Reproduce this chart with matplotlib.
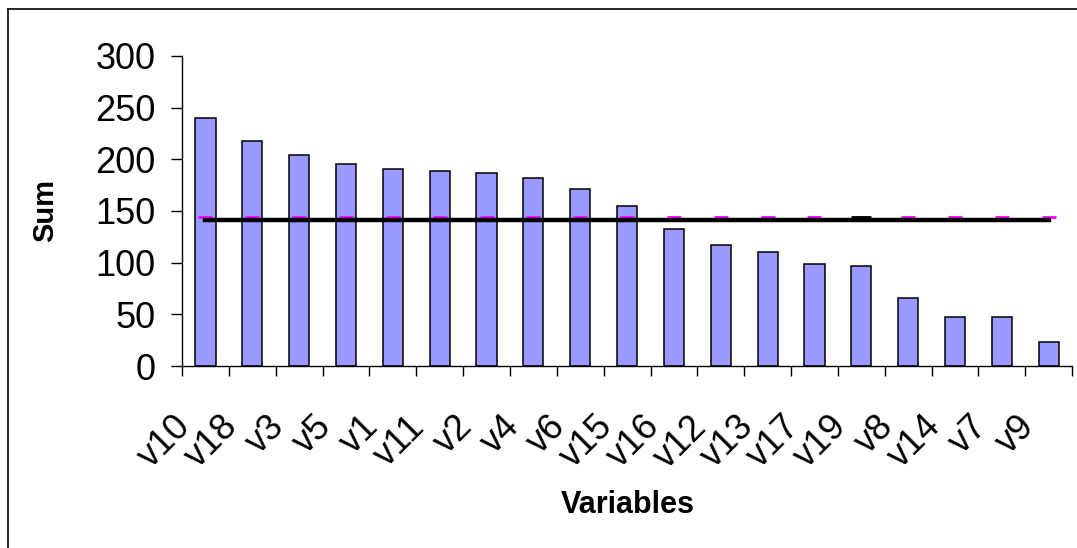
import matplotlib.pyplot as plt
import matplotlib.transforms as mtrans
from matplotlib.lines import Line2D
import numpy as np

plt.rcParams['font.family'] = ['Liberation Sans', 'DejaVu Sans']

# data
variables = ['v10', 'v18', 'v3', 'v5', 'v1', 'v11', 'v2', 'v4', 'v6', 'v15',
             'v16', 'v12', 'v13', 'v17', 'v19', 'v8', 'v14', 'v7', 'v9']
sums = [240, 218, 204, 195, 191, 189, 187, 182, 171, 155,
        133, 117, 110, 99, 97, 66, 47, 47, 23]
mean_line = [141.5] * len(variables)
ref_marks = [144] * len(variables)

x = np.arange(len(variables))

fig = plt.figure(figsize=(10.77, 5.48), dpi=100)
ax = fig.add_axes([0.169, 0.332, 0.8265, 0.566])

ax.bar(x, sums, width=0.43, color='#9999FF', edgecolor='black', linewidth=1.1, zorder=2)
ax.plot(x, ref_marks, linestyle='none', marker='_', markersize=10,
        markeredgewidth=2, color='#FF00FF', zorder=3)
ax.plot(x[14], ref_marks[14], linestyle='none', marker='_', markersize=14,
        markeredgewidth=2, color='black', zorder=3)
ax.plot(x, mean_line, color='black', linewidth=3.2, zorder=4)

ax.set_xlim(-0.5, len(variables) - 0.5)
ax.set_ylim(0, 300)
ax.set_yticks(range(0, 301, 50))
ax.spines['top'].set_visible(False)
ax.spines['right'].set_visible(False)
ax.spines['left'].set_linewidth(1.0)
ax.spines['bottom'].set_linewidth(1.0)

ax.tick_params(axis='y', direction='out', length=8, width=1, labelsize=26, pad=11)
ax.set_xticks(x, variables)
ax.set_xticks(np.arange(-0.5, len(variables)), minor=True)
ax.tick_params(axis='x', which='major', length=0, labelsize=26, pad=31)
ax.tick_params(axis='x', which='minor', direction='out', length=7.5, width=1)

# rotated labels sit a bit left of their bar, like the original
offset = mtrans.ScaledTranslation(-0.32, 0, fig.dpi_scale_trans)
for lab in ax.get_xticklabels():
    lab.set_rotation(45)
    lab.set_ha('right')
    lab.set_va('top')
    lab.set_rotation_mode('anchor')
    lab.set_transform(lab.get_transform() + offset)

ax.set_ylabel('Sum', fontsize=21, fontweight='bold')
ax.yaxis.set_label_coords(-0.138, 0.5)
fig.text(0.583, 0.078, 'Variables', fontsize=22, fontweight='bold', ha='center', va='center')

# outer frame
fig.add_artist(Line2D([8 / 1077, 8 / 1077], [0, 1 - 9 / 548], color='black', linewidth=1.2))
fig.add_artist(Line2D([8 / 1077, 1], [1 - 9 / 548, 1 - 9 / 548], color='black', linewidth=1.2))

fig.savefig('out.png', dpi=100)
